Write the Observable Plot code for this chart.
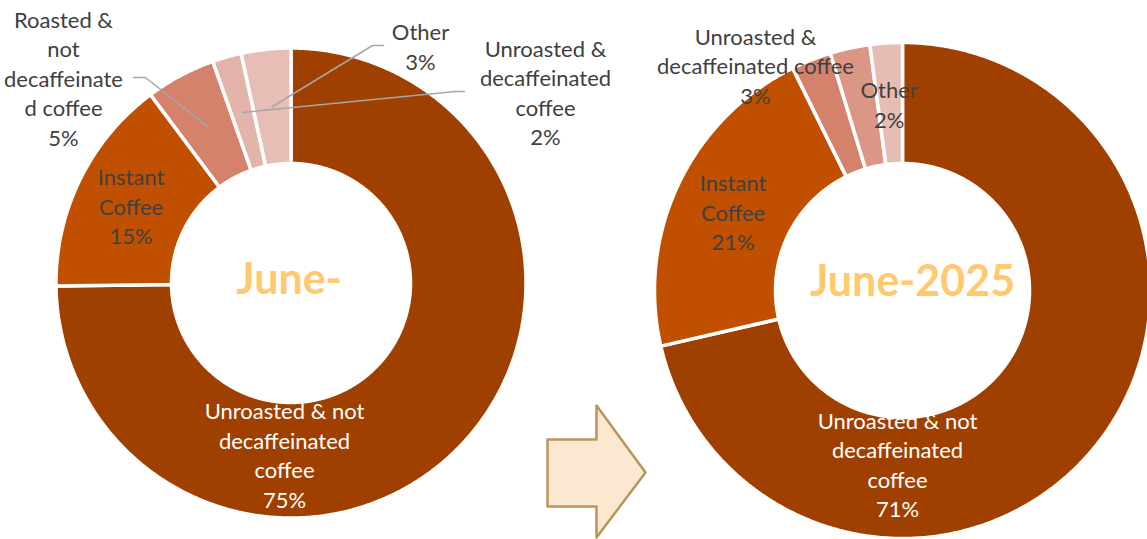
<!DOCTYPE html>
<html><head><meta charset="utf-8">
<script src="https://cdn.jsdelivr.net/npm/d3@7"></script>
<script src="https://cdn.jsdelivr.net/npm/@observablehq/plot@0.6"></script>
<style>body{margin:0;background:#fff}#chart{width:1147px;height:539px}</style>
</head><body><div id="chart"></div>
<script>
// ---------------- data ----------------
const categories = [
  "Unroasted & not decaffeinated coffee",
  "Instant Coffee",
  "Roasted & not decaffeinated coffee",
  "Unroasted & decaffeinated coffee",
  "Other"
];
const charts = ["June-2024", "June-2025"];
const centerTitles = ["June-", "June-2025"];
const valuesJune2024 = [74.8, 15.0, 4.8, 2.0, 3.4];
const valuesJune2025 = [71.4, 21.3, 2.6, 2.6, 2.1];
const labelNames2024 = ["Unroasted & not\ndecaffeinated\ncoffee", "Instant\nCoffee", "Roasted &\nnot\ndecaffeinate\nd coffee", "Unroasted &\ndecaffeinated\ncoffee", "Other"];
const labelNames2025 = ["Unroasted & not\ndecaffeinated\ncoffee", "Instant\nCoffee", null, "Unroasted &\ndecaffeinated coffee", "Other"];

// ---------------- styles / layout ----------------
const colors2024 = ["#A04000", "#C05000", "#D4826C", "#E3B4A9", "#E6BEB5"];
const colors2025 = ["#A04000", "#C05000", "#D4826C", "#DA9786", "#E6BDB4"];
const W = 1147, H = 539;
const donutLayout = [
  {cx: 290.5, cy: 282.5, r0: 119.5, r1: 235, titleDx: -2, titleDy: -3},
  {cx: 902, cy: 290, r0: 127, r1: 248, titleDx: 10, titleDy: -8}
];
// label placement: "centroid" or fixed position (with optional leader line)
const labelLayout = [
  [
    {x: 284, y: 455.5, white: true},
    {centroid: true, dx: -1, dy: 3},
    {x: 63, y: 79, leader: {x0: 133, x1: 145, dy: -2}},
    {x: 545, y: 93, leader: {x0: 464, x1: 455, dy: -2}},
    {x: 420, y: 47, leader: {x0: 383, x1: 372, dy: -2}}
  ],
  [
    {x: 897, y: 465, white: true},
    {centroid: true, dx: 0, dy: 3},
    null,
    {x: 755, y: 66.5},
    {centroid: true, dx: -1, dy: 2}
  ]
];
const arrowShape = [[547,439],[596,439],[596,405],[645,472],[596,537],[596,506],[547,506]];

// ---------------- build ----------------
const allValues = [valuesJune2024, valuesJune2025];
const allNames = [labelNames2024, labelNames2025];
const allColors = [colors2024, colors2025];
const colorDomain = [], colorRange = [];
const slicePts = [], labelsDark = [], labelsWhite = [], leaders = [], titles = [];

allValues.forEach((vals, ci) => {
  const L = donutLayout[ci];
  const arcs = d3.pie().sort(null).value(d => d)(vals);
  const pt = (a, r) => [L.cx + r * Math.sin(a), L.cy - r * Math.cos(a)];
  arcs.forEach((arc, i) => {
    const key = charts[ci] + "|" + categories[i];
    colorDomain.push(key); colorRange.push(allColors[ci][i]);
    const n = Math.max(2, Math.ceil((arc.endAngle - arc.startAngle) / (Math.PI / 360)));
    for (let k = 0; k <= n; k++) {
      const [x, y] = pt(arc.startAngle + (arc.endAngle - arc.startAngle) * k / n, L.r1);
      slicePts.push({key, x, y});
    }
    for (let k = n; k >= 0; k--) {
      const [x, y] = pt(arc.startAngle + (arc.endAngle - arc.startAngle) * k / n, L.r0);
      slicePts.push({key, x, y});
    }
    const name = allNames[ci][i];
    const pl = labelLayout[ci][i];
    if (name && pl) {
      const mid = (arc.startAngle + arc.endAngle) / 2;
      const [mx, my] = pt(mid, (L.r0 + L.r1) / 2);
      let lx, ly;
      if (pl.centroid) { lx = mx + (pl.dx || 0); ly = my + (pl.dy || 0); }
      else { lx = pl.x; ly = pl.y; }
      const text = name + "\n" + Math.round(arc.data) + "%";
      (pl.white ? labelsWhite : labelsDark).push({x: lx, y: ly, text});
      if (pl.leader) {
        const lk = key + "-leader";
        const yy = ly + pl.leader.dy;
        leaders.push({lk, x: pl.leader.x0, y: yy}, {lk, x: pl.leader.x1, y: yy}, {lk, x: mx, y: my});
      }
    }
  });
  titles.push({x: L.cx + L.titleDx, y: L.cy + L.titleDy, text: centerTitles[ci]});
});

const arrowPts = arrowShape.map(([x, y]) => ({x, y}));
const FONT = "Lato, 'Open Sans', sans-serif";
const FS = 22;

const plot = Plot.plot({
  width: W, height: H,
  margin: 0,
  style: {background: "white", fontFamily: FONT, overflow: "visible"},
  x: {domain: [0, W], range: [0, W], axis: null},
  y: {domain: [0, H], range: [0, H], axis: null},
  color: {domain: colorDomain, range: colorRange, legend: false},
  marks: [
    Plot.line(slicePts, {x: "x", y: "y", z: "key", fill: "key", stroke: "white", strokeWidth: 3.5, strokeLinejoin: "miter", curve: "linear-closed"}),
    Plot.line(leaders, {x: "x", y: "y", z: "lk", stroke: "#A6A6A6", strokeWidth: 1.5}),
    Plot.text(labelsDark, {x: "x", y: "y", dy: -2, text: "text", fill: "#404040", fontSize: FS, lineHeight: 29.5 / FS, fontFamily: FONT}),
    Plot.text(labelsWhite, {x: "x", y: "y", dy: -2, text: "text", fill: "white", fontSize: FS, lineHeight: 29.5 / FS, fontFamily: FONT}),
    Plot.line(arrowPts, {x: "x", y: "y", fill: "#FCE8D0", stroke: "#B9955C", strokeWidth: 2.5, curve: "linear-closed"}),
    Plot.text(titles, {x: "x", y: "y", text: "text", fill: "#FFC96F", fontSize: 43, fontWeight: "bold", fontFamily: FONT})
  ]
});
document.getElementById("chart").appendChild(plot);
</script>
</body></html>
